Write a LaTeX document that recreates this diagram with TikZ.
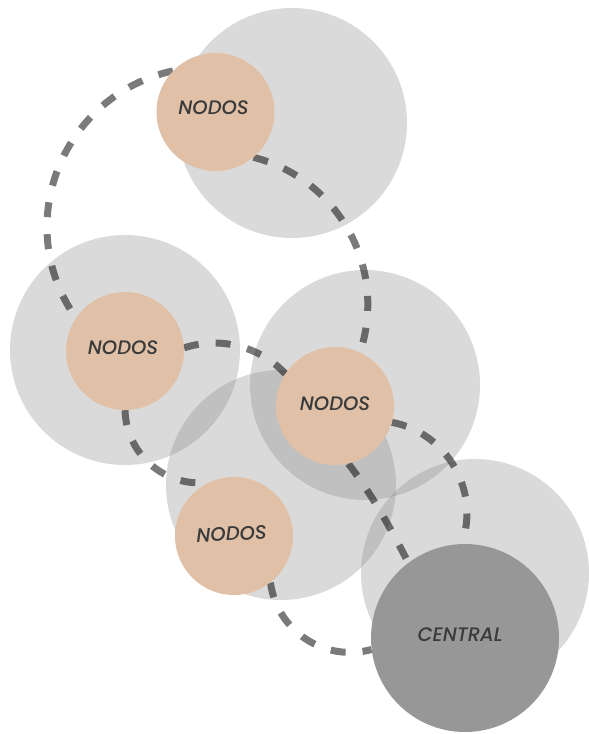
\documentclass[tikz,border=0pt]{standalone}
\usepackage{fontspec}
\IfFontExistsTF{Poppins Medium Italic}
  {\newfontfamily\tagfont{Poppins Medium Italic}}
  {\newfontfamily\tagfont{Poppins}[UprightFont=*-Italic, FakeBold=0.4]}
\pgfdeclarelayer{halo}
\pgfdeclarelayer{links}
\pgfsetlayers{halo,links,main}
\definecolor{peach}{HTML}{E0C1A7}
\definecolor{centralgray}{HTML}{979797}
\definecolor{ink}{HTML}{3A3A3A}
\definecolor{halogray}{HTML}{808080}
\begin{document}
\begin{tikzpicture}[x=1pt,y=-1pt,
  halo/.style={fill=halogray, fill opacity=0.29},
  link/.style={draw=black, draw opacity=0.52, line width=7pt, dash pattern=on 15pt off 17pt},
  hub/.style={circle, fill=peach, minimum size=118pt, inner sep=0pt},
  core/.style={circle, fill=centralgray, minimum size=188pt, inner sep=0pt},
  tag/.style={font=\tagfont\fontsize{19.5}{19.5}\selectfont, text=ink, inner sep=0pt}]
\useasboundingbox (0,0) rectangle (589,734);

% nodes
\node[hub, label={[tag,xshift=-2pt,yshift=4pt]center:NODOS}] (n1) at (215.5,112) {};
\node[hub, label={[tag,xshift=-2pt,yshift=3.5pt]center:NODOS}] (n2) at (125,351) {};
\node[hub, label={[tag,xshift=0pt,yshift=2pt]center:NODOS}] (n3) at (335,406) {};
\node[hub, label={[tag,xshift=-2.5pt,yshift=2pt,rotate=2]center:NODOS}] (n4) at (234,536) {};
\node[core, label={[tag,xshift=-5pt,yshift=3pt]center:CENTRAL}] (c) at (465,638) {};

% halos
\begin{pgfonlayer}{halo}
\fill[halo] (292,123) circle[radius=115pt];
\fill[halo] (125,350) circle[radius=115pt];
\fill[halo] (365,385) circle[radius=115pt];
\fill[halo] (281,485) circle[radius=115pt];
\fill[halo] (475,573) circle[radius=114pt];
\end{pgfonlayer}

% connectors
\begin{pgfonlayer}{links}
\draw[link] (n1.136) .. controls (61.5,95.2) and (10.5,224.9) .. (n2.146);
\draw[link] (n1.310) .. controls (338.7,179.0) and (387.8,268.4) .. (n3.65);
\draw[link] (n2.3) .. controls (219.9,336.0) and (259.7,346.3) .. (n3.147);
\draw[link] (n2.270) .. controls (126.2,454.3) and (165.1,487.8) .. (n4.115);
\draw[link] (n3.283) .. controls (371.6,494) and (390.6,528.1) .. (c.127);
\draw[link] (n3.344) .. controls (447.3,433.0) and (480.3,490.6) .. (c.92);
\draw[link] (n4.308) .. controls (277.1,631.0) and (324.5,662.4) .. (c.187);
\end{pgfonlayer}
\end{tikzpicture}
\end{document}
